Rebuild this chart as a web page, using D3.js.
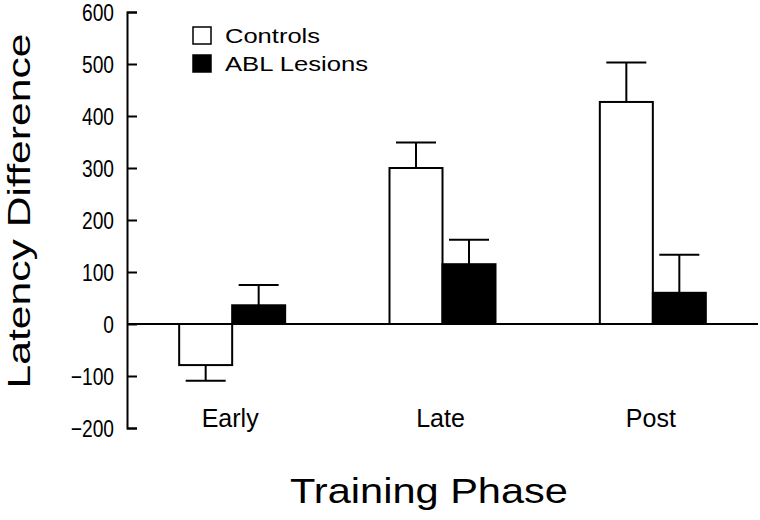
<!DOCTYPE html>
<html>
<head>
<meta charset="utf-8">
<script src="https://cdn.jsdelivr.net/npm/d3@7"></script>
<style>
  html, body { margin: 0; padding: 0; background: #fff; }
  svg { display: block; }
  text { font-family: "Liberation Sans", Arial, Helvetica, sans-serif; fill: #000; }
  .axis path, .axis line { stroke: #000; stroke-width: 2; }
  .axis text { font-size: 24px; }
</style>
</head>
<body>
<svg id="chart" width="760" height="520"></svg>
<script>
const phases = ["Early", "Late", "Post"];
const groups = ["Controls", "ABL Lesions"];
const controlMeans = [-79, 300, 427];
const controlErrors = [30, 49, 76];
const lesionMeans = [36, 115, 60];
const lesionErrors = [39, 47, 73];
const yTicks = [-200, -100, 0, 100, 200, 300, 400, 500, 600];

const groupFill = { "Controls": "#fff", "ABL Lesions": "#000" };

const rows = [];
phases.forEach((phase, i) => {
  rows.push({ phase, group: groups[0], mean: controlMeans[i], err: controlErrors[i] });
  rows.push({ phase, group: groups[1], mean: lesionMeans[i], err: lesionErrors[i] });
});

const svg = d3.select("#chart");

const plot = { left: 127, right: 758, top: 12, bottom: 428 };
const barWidth = 53;
const capWidth = 40;

const y = d3.scaleLinear().domain([-200, 600]).range([plot.bottom, plot.top]);
const x0 = d3.scaleBand().domain(phases).range([plot.left, plot.right]).padding(0);
const mid = x0.bandwidth() / 2;
const x1 = d3.scaleBand().domain(groups).range([mid - barWidth, mid + barWidth]).padding(0);

// zero line
svg.append("line")
  .attr("x1", plot.left)
  .attr("x2", plot.right)
  .attr("y1", y(0))
  .attr("y2", y(0))
  .attr("stroke", "#000")
  .attr("stroke-width", 2);

// error bars, drawn before the bars so the stem starts at the bar edge
const bars = svg.append("g")
  .selectAll("g")
  .data(rows)
  .join("g")
  .attr("transform", (d) => `translate(${x0(d.phase) + x1(d.group)}, 0)`);

bars.append("line")
  .attr("x1", x1.bandwidth() / 2)
  .attr("x2", x1.bandwidth() / 2)
  .attr("y1", (d) => y(d.mean))
  .attr("y2", (d) => y(d.mean + Math.sign(d.mean) * d.err))
  .attr("stroke", "#000")
  .attr("stroke-width", 2);

bars.append("line")
  .attr("x1", x1.bandwidth() / 2 - capWidth / 2)
  .attr("x2", x1.bandwidth() / 2 + capWidth / 2)
  .attr("y1", (d) => y(d.mean + Math.sign(d.mean) * d.err))
  .attr("y2", (d) => y(d.mean + Math.sign(d.mean) * d.err))
  .attr("stroke", "#000")
  .attr("stroke-width", 2);

bars.append("rect")
  .attr("x", 0)
  .attr("width", x1.bandwidth())
  .attr("y", (d) => y(Math.max(0, d.mean)))
  .attr("height", (d) => Math.abs(y(d.mean) - y(0)))
  .attr("fill", (d) => groupFill[d.group])
  .attr("stroke", "#000")
  .attr("stroke-width", 2);

// y axis with inward ticks; labels are a narrow Helvetica in the original
svg.append("g")
  .attr("class", "axis")
  .attr("transform", `translate(${plot.left}, 0)`)
  .call(
    d3.axisLeft(y)
      .tickValues(yTicks)
      .tickSize(-10)
      .tickSizeOuter(-10)
      .tickPadding(13)
      .tickFormat(d3.format("d"))
  )
  .call((g) => g.selectAll(".tick text")
    .attr("dy", "0.36em")
    .attr("lengthAdjust", "spacingAndGlyphs")
    .each(function () {
      d3.select(this).attr("textLength", this.getComputedTextLength() * 0.8);
    }));

// category labels
svg.append("g")
  .selectAll("text")
  .data(phases)
  .join("text")
  .attr("x", (d) => x0(d) + mid - 2)
  .attr("y", 427)
  .attr("text-anchor", "middle")
  .attr("font-size", 25)
  .text((d) => d);

// axis titles
svg.append("text")
  .attr("transform", "translate(30, 211) rotate(-90)")
  .attr("text-anchor", "middle")
  .attr("font-size", 32)
  .attr("textLength", 355)
  .attr("lengthAdjust", "spacingAndGlyphs")
  .text("Latency Difference");

svg.append("text")
  .attr("x", 429)
  .attr("y", 503)
  .attr("text-anchor", "middle")
  .attr("font-size", 35)
  .attr("textLength", 278)
  .attr("lengthAdjust", "spacingAndGlyphs")
  .text("Training Phase");

// legend
const legendLengths = { "Controls": 95, "ABL Lesions": 143 };
const legend = svg.append("g")
  .selectAll("g")
  .data(groups)
  .join("g")
  .attr("transform", (d, i) => `translate(193, ${27 + i * 28})`);

legend.append("rect")
  .attr("width", 18)
  .attr("height", 17)
  .attr("fill", (d) => groupFill[d])
  .attr("stroke", "#000")
  .attr("stroke-width", 1.5);

legend.append("text")
  .attr("x", 32)
  .attr("y", 16)
  .attr("font-size", 21)
  .attr("textLength", (d) => legendLengths[d])
  .attr("lengthAdjust", "spacingAndGlyphs")
  .text((d) => d);
</script>
</body>
</html>
